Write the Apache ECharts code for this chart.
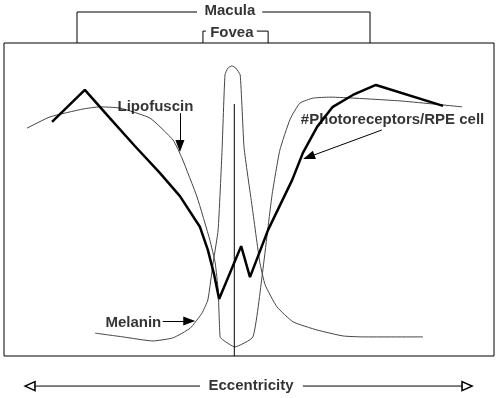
<!DOCTYPE html>
<html>
<head>
<meta charset="utf-8">
<script src="https://cdn.jsdelivr.net/npm/echarts@6/dist/echarts.min.js"></script>
<style>
  html, body { margin: 0; padding: 0; background: #fff; }
  #chart { width: 500px; height: 398px; }
</style>
</head>
<body>
<div id="chart"></div>
<script>
// x = eccentricity (0..100 across the box), y = relative amount (0..100)
var photoreceptors = [
  [9.8, 74.8], [16.5, 85.0], [21.6, 76.0], [26.7, 67.1], [31.8, 58.5], [35.9, 51.1],
  [40.0, 41.2], [41.6, 33.9], [42.9, 25.9], [43.9, 18.2], [48.4, 35.1], [50.2, 25.2],
  [53.9, 40.3], [58.8, 56.2], [61.0, 64.9], [63.9, 73.2], [67.1, 79.6], [71.2, 83.4],
  [75.9, 86.6], [89.6, 79.9]
];
var lipofuscin = [
  [4.7, 72.8], [9.4, 76.4], [16.1, 78.9], [19.6, 79.6], [23.7, 79.2], [29.8, 76.0],
  [34.5, 69.0], [36.3, 63.3], [39.4, 50.8], [42.0, 37.1], [43.1, 29.7], [43.7, 21.1],
  [44.1, 6.1], [44.7, 5.1], [47.1, 2.9], [50.8, 6.1], [52.7, 25.9], [54.7, 51.4],
  [56.3, 65.8], [58.4, 75.7], [60.4, 80.8], [63.1, 82.4], [66.5, 82.7], [80.8, 81.5],
  [93.5, 79.6]
];
var melanin = [
  [18.6, 7.3], [24.3, 6.1], [30.4, 4.8], [34.5, 5.8], [38.0, 8.9], [40.4, 13.7],
  [41.6, 17.9], [42.7, 30.0], [43.7, 40.3], [44.5, 65.8], [45.1, 89.8], [45.7, 92.0],
  [46.5, 92.7], [47.3, 92.0], [48.2, 89.8], [49.0, 66.5], [50.6, 48.2], [52.2, 30.0],
  [53.3, 22.7], [55.7, 15.7], [59.0, 10.9], [63.9, 8.3], [69.2, 6.4], [73.3, 6.1],
  [85.5, 6.1]
];
var fovealCenter = [[47.0, 0], [47.0, 80.5]];

// brackets and labels sit outside the box (y > 100 or y < 0)
var maculaBracket = [[14.9, 100], [14.9, 109.9], [39.4, 109.9], null, [52.7, 109.9], [74.7, 109.9], [74.7, 100]];
var foveaBracket = [[40.6, 100], [40.6, 103.8], [41.2, 103.8], null, [51.6, 103.8], [53.9, 103.8], [53.9, 100]];
var eccLeft = [[5.3, -9.6], [40.0, -9.6]];
var eccRight = [[61.0, -9.6], [94.5, -9.6]];

var labels = [
  ['Macula', 46.1, 110.2],
  ['Fovea', 46.5, 103.2],
  ['Lipofuscin', 30.9, 79.7],
  ['#Photoreceptors/RPE cell', 79.3, 75.4],
  ['Melanin', 26.4, 10.5],
  ['Eccentricity', 50.4, -9.6]
];
var pointers = [
  [[35.9, 77.6], [35.9, 67.1]],
  [[77.1, 72.2], [62.2, 63.6]],
  [[32.4, 11.2], [37.8, 11.2]]
];

var textStyle = { fontFamily: 'Liberation Sans', fontWeight: 'bold', fontSize: 15, color: '#000' };

function plain(name, data, color, width, smooth) {
  return {
    name: name, type: 'line', data: data, clip: false, silent: true,
    symbol: 'none', connectNulls: false, smooth: smooth || false,
    lineStyle: { color: color, width: width }
  };
}

var chart = echarts.init(document.getElementById('chart'));
chart.setOption({
  animation: false,
  grid: { left: 4, top: 43, right: 6, bottom: 42, show: true, borderColor: '#000', borderWidth: 1 },
  xAxis: { type: 'value', min: 0, max: 100, show: false },
  yAxis: { type: 'value', min: 0, max: 100, show: false },
  series: [
    plain('Lipofuscin', lipofuscin, '#444', 1, 0.15),
    plain('Melanin', melanin, '#444', 1, 0.15),
    plain('center', fovealCenter, '#000', 1),
    plain('Photoreceptors', photoreceptors, '#000', 2.5),
    plain('macula', maculaBracket, '#000', 1),
    plain('fovea', foveaBracket, '#000', 1),
    {
      type: 'line', clip: false, silent: true, showSymbol: true,
      lineStyle: { color: '#000', width: 1 },
      itemStyle: { color: '#fff', borderColor: '#000', borderWidth: 1.5 },
      data: [
        { value: eccLeft[0], symbol: 'triangle', symbolSize: [9, 10], symbolRotate: 90 },
        { value: eccLeft[1], symbol: 'none' }
      ]
    },
    {
      type: 'line', clip: false, silent: true, showSymbol: true,
      lineStyle: { color: '#000', width: 1 },
      itemStyle: { color: '#fff', borderColor: '#000', borderWidth: 1.5 },
      data: [
        { value: eccRight[0], symbol: 'none' },
        { value: eccRight[1], symbol: 'triangle', symbolSize: [9, 10], symbolRotate: -90 }
      ]
    },
    {
      type: 'line', data: [], silent: true,
      markLine: {
        silent: true, animation: false,
        symbol: ['none', 'triangle'], symbolSize: [9, 12],
        lineStyle: { color: '#000', width: 1, type: 'solid' },
        itemStyle: { color: '#000' },
        label: { show: false },
        data: pointers.map(function (p) { return [{ coord: p[0] }, { coord: p[1] }]; })
      }
    },
    {
      type: 'scatter', clip: false, silent: true, symbolSize: 0,
      data: labels.map(function (l) { return { name: l[0], value: [l[1], l[2]] }; }),
      label: Object.assign({ show: true, position: 'inside', formatter: '{b}' }, textStyle),
      z: 5
    }
  ]
});
</script>
</body>
</html>
